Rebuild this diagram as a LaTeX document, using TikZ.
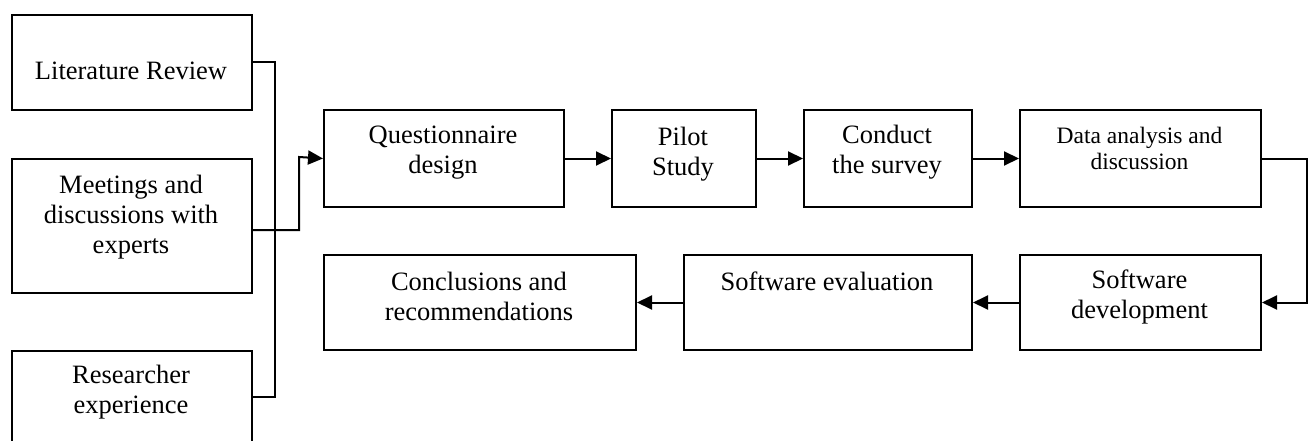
\documentclass[tikz,border=0pt]{standalone}
\usepackage{fontspec}
\setmainfont{Liberation Serif}
\usetikzlibrary{arrows.meta,calc}
\begin{document}
\begin{tikzpicture}[x=1pt,y=-1pt,
  box/.style={draw, line width=2pt, inner sep=0pt, anchor=north west},
  txt/.style={inner sep=0pt, align=center, anchor=north, font=\fontsize{26.5}{30}\selectfont},
  smalltxt/.style={txt, font=\fontsize{23.5}{26}\selectfont},
  conn/.style={line width=2pt},
  arr/.style={conn, -{Triangle[length=15pt,width=14pt]}}]
\path[use as bounding box, clip] (0,0) rectangle (1314,441);
% left column
\node[box, minimum width=240pt, minimum height=95pt] (lit) at (11,14) {};
\node[box, minimum width=240pt, minimum height=134pt] (meet) at (11,158) {};
\node[box, minimum width=240pt, minimum height=130pt] (res) at (11,350) {};
\node[txt] (litt) at (131,62) {Literature Review};
\node[txt] (meett) at (131,175) {Meetings and\\discussions with\\experts};
\node[txt] (rest) at (131,365) {Researcher\\experience};
% top row
\node[box, minimum width=240pt, minimum height=97pt] (q) at (323,109) {};
\node[box, minimum width=144pt, minimum height=97pt] (p) at (611,109) {};
\node[box, minimum width=168pt, minimum height=97pt] (c) at (803,109) {};
\node[box, minimum width=241pt, minimum height=97pt] (d) at (1019,109) {};
\node[txt] (qt) at (443,126) {Questionnaire\\design};
\node[txt] (pt) at (683,127) {Pilot\\Study};
\node[txt] (ct) at (887,125) {Conduct\\the survey};
\node[smalltxt] (dt) at (1139.5,127) {Data analysis and\\discussion};
% bottom row
\node[box, minimum width=241pt, minimum height=95pt] (sd) at (1019,254) {};
\node[box, minimum width=288pt, minimum height=95pt] (se) at (683,254) {};
\node[box, minimum width=312pt, minimum height=95pt] (cc) at (323,254) {};
\node[txt] (sdt) at (1139.5,270) {Software\\development};
\node[txt] (set) at (827,272) {Software evaluation};
\node[txt] (cct) at (479,272) {Conclusions and\\recommendations};
% connectors
\coordinate (rj) at ([yshift=-47pt]res.north east);
\coordinate (mj) at ([yshift=-4pt]meet.east);
\coordinate (bus) at (275,397);
\coordinate (jog) at (299,157);
\coordinate (rc) at (1307,0);
\draw[conn] (lit.east) -| (bus) -- (rj);
\draw[arr] (mj) -| (jog) -- (q.west);
\draw[arr] (q.east) -- (p.west);
\draw[arr] (p.east) -- (c.west);
\draw[arr] (c.east) -- (d.west);
\draw[arr] (d.east) -| (rc |- sd.east) -- (sd.east);
\draw[arr] (sd.west) -- (se.east);
\draw[arr] (se.west) -- (cc.east);
\end{tikzpicture}
\end{document}
